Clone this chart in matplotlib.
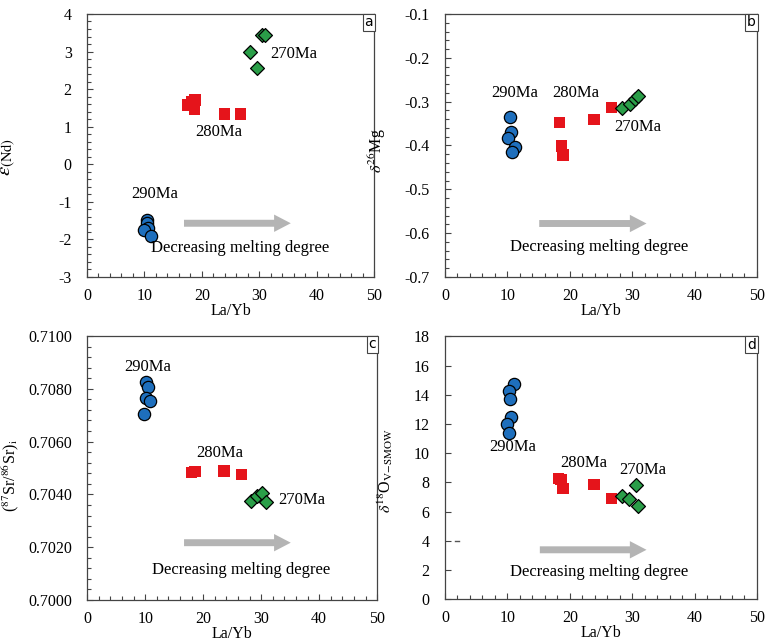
import matplotlib.pyplot as plt
from matplotlib.ticker import MultipleLocator, FormatStrFormatter

plt.rcParams['font.family'] = ['Liberation Serif', 'DejaVu Serif']
plt.rcParams['mathtext.fontset'] = 'stix'

BLUE = '#1e6fbd'
RED = '#e5141b'
GREEN = '#2a9e48'
ARROW_GREY = '#b4b4b4'

# La/Yb vs eNd
a_blue_x = [10.4, 10.5, 10.7, 10.0, 11.1]
a_blue_y = [-1.48, -1.57, -1.70, -1.76, -1.90]
a_red_x = [17.6, 18.2, 18.8, 18.7, 23.9, 26.8]
a_red_y = [1.58, 1.67, 1.71, 1.45, 1.34, 1.34]
a_green_x = [30.5, 31.0, 28.4, 29.7]
a_green_y = [3.45, 3.43, 2.98, 2.57]

# La/Yb vs d26Mg
b_blue_x = [10.4, 10.6, 10.1, 11.2, 10.7]
b_blue_y = [-0.334, -0.369, -0.382, -0.403, -0.414]
b_red_x = [18.3, 18.7, 18.9, 23.9, 26.7]
b_red_y = [-0.348, -0.401, -0.422, -0.340, -0.313]
b_green_x = [28.3, 29.6, 30.5, 31.0]
b_green_y = [-0.314, -0.305, -0.293, -0.287]

# La/Yb vs (87Sr/86Sr)i
c_blue_x = [10.1, 10.4, 10.2, 10.9, 9.8]
c_blue_y = [0.70825, 0.70808, 0.70764, 0.70755, 0.70703]
c_red_x = [18.0, 18.6, 23.6, 26.6]
c_red_y = [0.70484, 0.70487, 0.70489, 0.70476]
c_green_x = [28.2, 29.3, 30.2, 30.8]
c_green_y = [0.70375, 0.70394, 0.70404, 0.70372]

# La/Yb vs d18O
d_blue_x = [11.1, 10.3, 10.4, 10.6, 9.9, 10.3]
d_blue_y = [14.76, 14.23, 13.73, 12.47, 12.02, 11.40]
d_red_x = [18.2, 18.6, 18.9, 23.9, 26.7]
d_red_y = [8.25, 8.20, 7.57, 7.84, 6.88]
d_green_x = [30.6, 28.3, 29.5, 30.9]
d_green_y = [7.84, 7.04, 6.88, 6.38]

ylabels = [r'$\varepsilon_{(\mathrm{Nd})}$',
           r'$\delta^{26}$Mg',
           r'($^{87}$Sr/$^{86}$Sr)$_{\mathrm{i}}$',
           r'$\delta^{18}$O$_{\mathrm{V{-}SMOW}}$']
tags = ['a', 'b', 'c', 'd']

fig = plt.figure(figsize=(7.65, 6.41), dpi=100)
axa = fig.add_axes([0.1137, 0.5679, 0.3752, 0.4103])
axb = fig.add_axes([0.5817, 0.5679, 0.4078, 0.4103])
axc = fig.add_axes([0.1140, 0.0640, 0.3790, 0.4118])
axd = fig.add_axes([0.5817, 0.0650, 0.4078, 0.4103])
axes = [axa, axb, axc, axd]

series = [
    (a_blue_x, a_blue_y, a_red_x, a_red_y, a_green_x, a_green_y),
    (b_blue_x, b_blue_y, b_red_x, b_red_y, b_green_x, b_green_y),
    (c_blue_x, c_blue_y, c_red_x, c_red_y, c_green_x, c_green_y),
    (d_blue_x, d_blue_y, d_red_x, d_red_y, d_green_x, d_green_y),
]

ylims = [(-3, 4), (-0.7, -0.1), (0.7000, 0.7100), (0, 18)]
ymajor = [1, 0.1, 0.002, 2]
yminor = [0.2, 0.02, 0.0004, None]
yfmt = ['%d', '%.1f', '%.4f', '%d']

# label positions (data coords): 290Ma, 280Ma, 270Ma, arrow tail, arrow head, caption
annots = [
    ((11.8, -0.79), (22.9, 0.87), (36.0, 2.94), (16.9, -1.57), (35.5, -1.57), (26.7, -2.23)),
    ((11.2, -0.281), (21.0, -0.281), (30.9, -0.357), (15.1, -0.578), (32.3, -0.578), (24.7, -0.631)),
    ((10.5, 0.70884), (22.8, 0.70558), (37.0, 0.70379), (16.7, 0.70217), (35.1, 0.70217), (26.5, 0.70114)),
    ((10.9, 10.42), (22.3, 9.32), (31.7, 8.82), (15.2, 3.39), (32.3, 3.39), (24.7, 1.86)),
]
ylabel_pos = [(-0.24, 0.456), (-0.183, 0.48), (-0.23, 0.47), (-0.16, 0.49)]

for i, ax in enumerate(axes):
    bx, by, rx, ry, gx, gy = series[i]
    ax.scatter(bx, by, s=78, marker='o', c=BLUE, edgecolors='black', linewidths=0.9, zorder=3)
    ax.scatter(rx, ry, s=66, marker='s', c=RED, edgecolors='none', zorder=3)
    ax.scatter(gx, gy, s=50, marker='D', c=GREEN, edgecolors='black', linewidths=0.9, zorder=4)

    l290, l280, l270, tail, head, cap = annots[i]
    ax.text(*l290, '290Ma', ha='center', va='center', fontsize=12)
    ax.text(*l280, '280Ma', ha='center', va='center', fontsize=12)
    ax.text(*l270, '270Ma', ha='center', va='center', fontsize=12)
    ax.annotate('', xy=head, xytext=tail,
                arrowprops=dict(arrowstyle='simple,head_length=1.2,head_width=1.25,tail_width=0.5',
                                mutation_scale=10, fc=ARROW_GREY, ec='none',
                                shrinkA=0, shrinkB=0))
    ax.text(*cap, 'Decreasing melting degree', ha='center', va='center', fontsize=12)

    ax.set_xlim(0, 50)
    ax.set_ylim(*ylims[i])
    ax.xaxis.set_major_locator(MultipleLocator(10))
    ax.xaxis.set_minor_locator(MultipleLocator(2))
    ax.yaxis.set_major_locator(MultipleLocator(ymajor[i]))
    if yminor[i]:
        ax.yaxis.set_minor_locator(MultipleLocator(yminor[i]))
    ax.yaxis.set_major_formatter(FormatStrFormatter(yfmt[i]))
    ax.tick_params(which='both', direction='in', top=False, right=False,
                   labelsize=11.5, width=0.8, color='#444444')
    ax.tick_params(axis='y', which='major', length=4, pad=11)
    ax.tick_params(axis='y', which='minor', length=3)
    ax.tick_params(axis='x', which='major', length=4, pad=8)
    ax.tick_params(axis='x', which='minor', length=3)
    for sp in ax.spines.values():
        sp.set_linewidth(0.9)
        sp.set_color('#444444')

    ax.set_xlabel('La/Yb', fontsize=11.5, labelpad=-1)
    fs = 15 if i == 0 else 11.5
    ax.set_ylabel(ylabels[i], fontsize=fs)
    ax.yaxis.set_label_coords(*ylabel_pos[i])

    ax.text(0.997, 0.995, tags[i], transform=ax.transAxes, ha='right', va='top',
            fontsize=10, family='DejaVu Sans',
            bbox=dict(boxstyle='square,pad=0.12', fc='white', ec='#444444', lw=0.8))

# stray tick mark drawn inside panel d
axd.plot([1.6, 2.3], [3.96, 3.96], color='#555555', lw=1)

fig.savefig('out.png', dpi=100)
